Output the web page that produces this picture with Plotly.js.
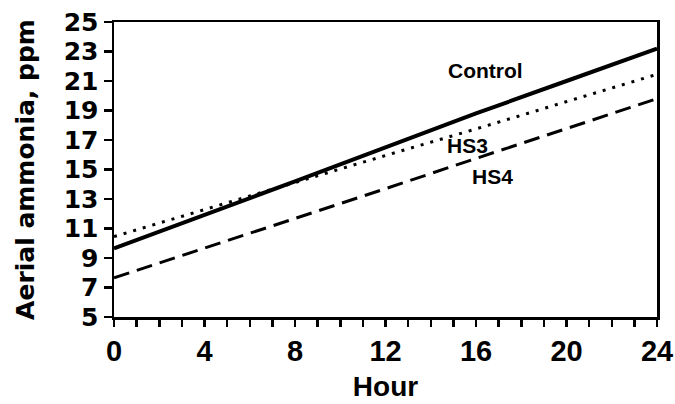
<!DOCTYPE html>
<html>
<head>
<meta charset="utf-8">
<script src="https://cdn.plot.ly/plotly-3.0.1.min.js"></script>
<style>html,body{margin:0;padding:0;background:#fff;}#chart{width:675px;height:404px;}</style>
</head>
<body>
<div id="chart"></div>
<script>
const hours = [0, 4, 8, 12, 16, 20, 24];
const control = [9.65, 11.9, 14.2, 16.5, 18.8, 21.0, 23.2];
const hs3 = [10.45, 12.3, 14.1, 15.95, 17.75, 19.6, 21.45];
const hs4 = [7.65, 9.65, 11.7, 13.7, 15.75, 17.75, 19.8];
const seriesNames = ["Control", "HS3", "HS4"];
const yTicks = [5, 7, 9, 11, 13, 15, 17, 19, 21, 23, 25];
const xTicks = [0, 4, 8, 12, 16, 20, 24];

const FONT = "Liberation Sans, Arial, Helvetica, sans-serif";
const WIDE = "DejaVu Sans, Liberation Sans, Arial, sans-serif";

const traces = [
  {x: hours, y: control, name: seriesNames[0], mode: "lines",
   line: {color: "#000", width: 4, dash: "solid"}},
  {x: hours, y: hs3, name: seriesNames[1], mode: "lines",
   line: {color: "#000", width: 3, dash: "3px,7px"}},
  {x: hours, y: hs4, name: seriesNames[2], mode: "lines",
   line: {color: "#000", width: 3, dash: "16px,8px"}}
];

const layout = {
  width: 675, height: 404,
  margin: {l: 114, r: 18, t: 22, b: 87},
  paper_bgcolor: "#fff", plot_bgcolor: "#fff",
  showlegend: false,
  font: {family: FONT, color: "#000", weight: "bold"},
  xaxis: {
    range: [0, 24], tickvals: xTicks, ticktext: xTicks.map(String),
    ticks: "outside", ticklen: 7, tickwidth: 2.5, tickcolor: "#000",
    minor: {dtick: 1, ticks: "outside", ticklen: 7, tickwidth: 2.5, tickcolor: "#000"},
    showline: true, linewidth: 2.5, linecolor: "#000", mirror: true,
    showgrid: false, zeroline: false,
    tickfont: {family: FONT, size: 29, color: "#000", weight: "bold"},
    title: {text: "Hour", font: {family: FONT, size: 28, color: "#000", weight: "bold"}, standoff: 10}
  },
  yaxis: {
    range: [5, 25], tickvals: yTicks, ticktext: yTicks.map(String),
    ticks: "outside", ticklen: 8, tickwidth: 2.5, tickcolor: "#000",
    showline: true, linewidth: 2.5, linecolor: "#000", mirror: true,
    showgrid: false, zeroline: false,
    tickfont: {family: WIDE, size: 25, color: "#000", weight: "bold"},
    title: {text: "Aerial ammonia, ppm", font: {family: WIDE, size: 25, color: "#000", weight: "bold"}, standoff: 22}
  },
  annotations: [
    {x: 16.4, y: 21.71, xref: "x", yref: "y", text: seriesNames[0], showarrow: false,
     font: {family: FONT, size: 21, color: "#000", weight: "bold"}},
    {x: 15.62, y: 16.63, xref: "x", yref: "y", text: seriesNames[1], showarrow: false,
     font: {family: FONT, size: 21, color: "#000", weight: "bold"}},
    {x: 16.73, y: 14.53, xref: "x", yref: "y", text: seriesNames[2], showarrow: false,
     font: {family: FONT, size: 21, color: "#000", weight: "bold"}}
  ]
};

Plotly.newPlot("chart", traces, layout, {staticPlot: true, displayModeBar: false});
</script>
</body>
</html>
